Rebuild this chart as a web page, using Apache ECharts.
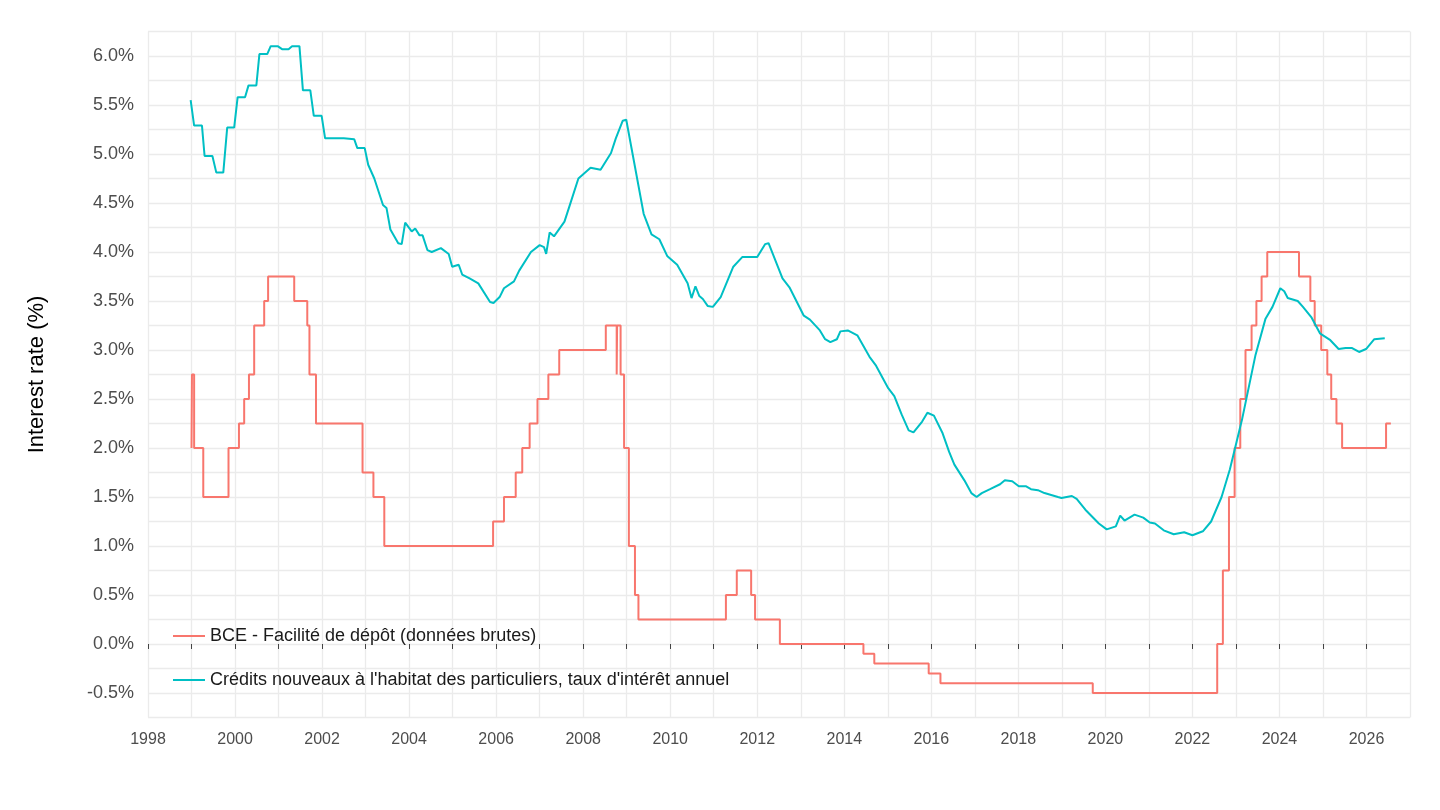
<!DOCTYPE html>
<html>
<head>
<meta charset="utf-8">
<script src="https://cdn.jsdelivr.net/npm/echarts@6/dist/echarts.min.js"></script>
<style>html,body{margin:0;background:#fff}#chart{width:1440px;height:810px}</style>
</head>
<body>
<div id="chart"></div>
<script>
// ECB deposit facility rate: [decimal year, rate in effect from then]
var depotYears = [1999.0, 1999.01, 1999.06, 1999.27, 1999.85, 2000.09, 2000.21, 2000.32, 2000.44, 2000.67, 2000.76,
  2001.36, 2001.66, 2001.71, 2001.86, 2002.93, 2003.18, 2003.43, 2005.93, 2006.18, 2006.45, 2006.6, 2006.77, 2006.95,
  2007.2, 2007.45, 2008.52, 2008.77, 2008.78, 2008.86, 2008.94, 2009.05, 2009.19, 2009.27, 2011.28, 2011.53, 2011.86,
  2011.95, 2012.52, 2014.44, 2014.69, 2015.94, 2016.21, 2019.71, 2022.57, 2022.7, 2022.84, 2022.97, 2023.1, 2023.22,
  2023.36, 2023.47, 2023.59, 2023.72, 2024.45, 2024.71, 2024.81, 2024.96, 2025.1, 2025.19, 2025.31, 2025.44, 2026.45, 2026.56];
var depotRates = [2.00, 2.75, 2.00, 1.50, 2.00, 2.25, 2.50, 2.75, 3.25, 3.50, 3.75,
  3.50, 3.25, 2.75, 2.25, 1.75, 1.50, 1.00, 1.25, 1.50, 1.75, 2.00, 2.25, 2.50,
  2.75, 3.00, 3.25, 2.75, 3.25, 2.75, 2.00, 1.00, 0.50, 0.25, 0.50, 0.75, 0.50,
  0.25, 0.00, -0.10, -0.20, -0.30, -0.40, -0.50, 0.00, 0.75, 1.50, 2.00, 2.50, 3.00,
  3.25, 3.50, 3.75, 4.00, 3.75, 3.50, 3.25, 3.00, 2.75, 2.50, 2.25, 2.00, 2.25, 2.25];

// New housing loans to households, annual rate
var creditYears = [1998.98, 1999.06, 1999.24, 1999.30, 1999.48, 1999.57, 1999.73, 1999.82, 1999.98, 2000.06, 2000.23,
  2000.31, 2000.49, 2000.56, 2000.74, 2000.82, 2000.98, 2001.08, 2001.23, 2001.31, 2001.48, 2001.56, 2001.73, 2001.81,
  2001.99, 2002.07, 2002.50, 2002.74, 2002.81, 2002.98, 2003.06, 2003.20, 2003.40, 2003.48, 2003.57, 2003.75, 2003.83,
  2003.91, 2004.06, 2004.14, 2004.24, 2004.31, 2004.42, 2004.52, 2004.73, 2004.91, 2004.99, 2005.14, 2005.22, 2005.39,
  2005.59, 2005.86, 2005.94, 2006.08, 2006.18, 2006.41, 2006.53, 2006.80, 2007.00, 2007.10, 2007.15, 2007.23, 2007.33,
  2007.57, 2007.68, 2007.89, 2008.17, 2008.40, 2008.64, 2008.75, 2008.91, 2008.99, 2009.39, 2009.57, 2009.75, 2009.93,
  2010.16, 2010.40, 2010.49, 2010.58, 2010.67, 2010.75, 2010.86, 2010.98, 2011.16, 2011.45, 2011.66, 2011.84, 2012.00,
  2012.18, 2012.26, 2012.58, 2012.74, 2013.07, 2013.21, 2013.44, 2013.56, 2013.68, 2013.83, 2013.91, 2014.08, 2014.30,
  2014.58, 2014.73, 2015.01, 2015.15, 2015.32, 2015.48, 2015.59, 2015.79, 2015.91, 2016.06, 2016.26, 2016.41, 2016.53,
  2016.76, 2016.92, 2017.04, 2017.16, 2017.35, 2017.58, 2017.69, 2017.86, 2018.01, 2018.17, 2018.29, 2018.45, 2018.60,
  2018.91, 2018.99, 2019.23, 2019.34, 2019.54, 2019.85, 2020.03, 2020.24, 2020.34, 2020.44, 2020.67, 2020.87, 2021.02,
  2021.14, 2021.34, 2021.57, 2021.81, 2022.00, 2022.24, 2022.43, 2022.67, 2022.86, 2023.14, 2023.45, 2023.68, 2023.84,
  2024.02, 2024.11, 2024.19, 2024.42, 2024.54, 2024.74, 2024.93, 2025.17, 2025.36, 2025.52, 2025.67, 2025.83, 2025.99,
  2026.18, 2026.42];
var creditRates = [5.55, 5.29, 5.29, 4.98, 4.98, 4.81, 4.81, 5.27, 5.27, 5.58, 5.58,
  5.70, 5.70, 6.02, 6.02, 6.10, 6.10, 6.07, 6.07, 6.10, 6.10, 5.65, 5.65, 5.39,
  5.39, 5.16, 5.16, 5.15, 5.06, 5.06, 4.89, 4.75, 4.48, 4.45, 4.23, 4.09, 4.08,
  4.30, 4.21, 4.24, 4.17, 4.17, 4.02, 4.00, 4.04, 3.98, 3.85, 3.87, 3.77, 3.73,
  3.68, 3.49, 3.48, 3.54, 3.63, 3.70, 3.81, 4.00, 4.07, 4.05, 3.98, 4.20, 4.16,
  4.31, 4.46, 4.75, 4.86, 4.84, 5.01, 5.16, 5.34, 5.35, 4.39, 4.18, 4.13, 3.96,
  3.87, 3.68, 3.53, 3.65, 3.55, 3.52, 3.45, 3.44, 3.54, 3.85, 3.95, 3.95, 3.95,
  4.08, 4.09, 3.73, 3.64, 3.35, 3.31, 3.20, 3.11, 3.08, 3.11, 3.19, 3.20, 3.15,
  2.93, 2.84, 2.61, 2.53, 2.34, 2.18, 2.16, 2.27, 2.36, 2.33, 2.15, 1.96, 1.83,
  1.67, 1.54, 1.50, 1.54, 1.58, 1.63, 1.67, 1.66, 1.61, 1.61, 1.58, 1.57, 1.54,
  1.50, 1.49, 1.51, 1.48, 1.37, 1.23, 1.17, 1.20, 1.31, 1.26, 1.32, 1.29, 1.24,
  1.23, 1.16, 1.12, 1.14, 1.11, 1.15, 1.25, 1.50, 1.78, 2.29, 2.95, 3.32, 3.44,
  3.63, 3.60, 3.53, 3.50, 3.44, 3.33, 3.17, 3.10, 3.01, 3.02, 3.02, 2.98, 3.01,
  3.11, 3.12];

var names = ['BCE - Facilité de dépôt (données brutes)', "Crédits nouveaux à l'habitat des particuliers, taux d'intérêt annuel"];
function pairs(xs, ys) { return xs.map(function (x, i) { return [x, ys[i]]; }); }

var chart = echarts.init(document.getElementById('chart'));
var gridLine = {lineStyle: {color: '#ebebeb', width: 1.3}};
chart.setOption({
  animation: false,
  textStyle: {fontFamily: '"Liberation Sans", Arial, sans-serif'},
  grid: {left: 148, right: 30, top: 31.5, bottom: 92.5},
  legend: {
    orient: 'vertical', left: 168, top: 622, itemGap: 26, itemWidth: 32, itemHeight: 10,
    icon: 'path://M0,4 L32,4 L32,6 L0,6 Z',
    textStyle: {fontSize: 18, color: '#1a1a1a'},
    data: names
  },
  xAxis: {
    type: 'value', min: 1998, max: 2027, interval: 1,
    axisLine: {show: false}, axisTick: {show: true, length: 5, lineStyle: {color: '#444'}},
    axisLabel: {fontSize: 16, color: '#4d4d4d', margin: 14, showMaxLabel: false,
      formatter: function (v) { return v % 2 === 0 ? String(v) : ''; }},
    splitLine: gridLine
  },
  yAxis: {
    type: 'value', min: -0.75, max: 6.25, interval: 0.25,
    name: 'Interest rate (%)', nameLocation: 'middle', nameGap: 100,
    nameTextStyle: {fontSize: 22, color: '#000'},
    axisLine: {show: false}, axisTick: {show: false},
    axisLabel: {fontSize: 18, color: '#4d4d4d', margin: 14, formatter: function (v) {
      return Math.abs(v * 2 - Math.round(v * 2)) < 1e-6 ? v.toFixed(1) + '%' : ''; }},
    splitLine: gridLine
  },
  series: [
    {name: names[0], type: 'line', step: 'end', showSymbol: false,
     lineStyle: {color: '#f8766d', width: 2}, itemStyle: {color: '#f8766d'},
     data: pairs(depotYears, depotRates)},
    {name: names[1], type: 'line', showSymbol: false,
     lineStyle: {color: '#00bfc4', width: 2}, itemStyle: {color: '#00bfc4'},
     data: pairs(creditYears, creditRates)}
  ]
});
</script>
</body>
</html>
